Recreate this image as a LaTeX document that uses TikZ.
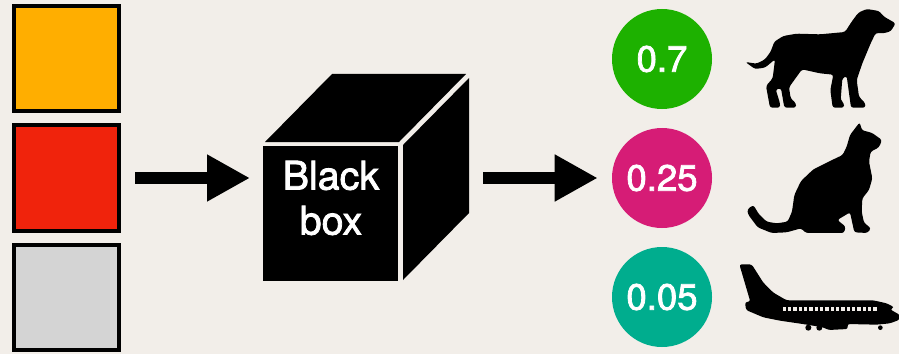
\documentclass[tikz,border=0pt]{standalone}
\usepackage{fontspec}
\setmainfont{TeX Gyre Heros}
\newfontfamily\mediumfont[FakeBold=2]{TeX Gyre Heros}
\usetikzlibrary{arrows.meta,positioning}
\definecolor{paper}{HTML}{F2EEE9}
\definecolor{amber}{HTML}{FFAE00}
\definecolor{scarlet}{HTML}{F0230C}
\definecolor{silver}{HTML}{D4D4D4}
\definecolor{leaf}{HTML}{1DB100}
\definecolor{magenta}{HTML}{D61C76}
\definecolor{teal}{HTML}{00AD8E}
\tikzset{
  swatch/.style={draw=black,line width=1mm,minimum size=26.25mm,inner sep=0pt},
  score/.style={circle,minimum size=25mm,inner sep=0pt,text=white,font=\fontsize{26}{26}\selectfont\mediumfont},
  bigarrow/.style={line width=3mm,-{Triangle[length=10.75mm,width=11mm]}},
  facebox/.style={fill=black,minimum width=33.75mm,minimum height=33.75mm,inner sep=0pt},
  boxtext/.style={text=white,align=center,font=\fontsize{28}{32}\selectfont\mediumfont},
  zoomed/.style={x=.08333mm,y=-.08333mm,rounded corners=.6mm},
}
\begin{document}
\begin{tikzpicture}[x=.25mm,y=-.25mm]
  \path[use as bounding box,fill=paper] (0,0) rectangle (899,354);
  % Input channels on the left.
  \node[swatch,fill=amber] (amberbox) at (66.5,58.5) {};
  \node[swatch,fill=scarlet] (redbox) at (66.5,178) {};
  \node[swatch,fill=silver] (greybox) at (66.5,297.5) {};

  % Cube: front face is the node, the two other faces are filled by hand.
  \node[facebox] (box) at (330.5,213.5) {};
  \node[boxtext] (boxlabel) at (331,198) {Black\\box};
  \fill (265,142) -- (332,74) -- (466,74) -- (399,142) -- cycle;
  \fill (403,145) -- (469,78) -- (469,213) -- (403,280) -- cycle;
  \coordinate (boxin) at (263,178);
  \coordinate (boxout) at (469,178);

  % Scores.
  \node[score,fill=leaf] (dogscore) at (662,59) {0.7};
  \node[score,fill=magenta] (catscore) at (662,178) {0.25};
  \node[score,fill=teal] (planescore) at (662,297) {0.05};

  \draw[bigarrow,shorten <=3.5mm,shorten >=3.25mm] (redbox.east) -- (boxin);
  \draw[bigarrow,shorten <=3.5mm,shorten >=3.5mm] (boxout) -- (catscore.west);

  % Silhouettes, traced in units of a third of a pixel.
  \begin{scope}[shift={(730,0)},zoomed]
    \fill (46,186) -- (80,191) -- (105,178) -- (122,155) -- (133,125) -- (160,108) -- (200,101)
      -- (270,103) -- (345,96) -- (365,65) -- (385,38) -- (410,27) -- (447,33) -- (462,50)
      -- (497,70) -- (482,94) -- (460,100) -- (437,99) -- (422,130) -- (397,190) -- (380,240)
      -- (387,290) -- (406,310) -- (406,323) -- (363,323) -- (350,228) -- (337,235) -- (332,300)
      -- (342,310) -- (342,323) -- (308,323) -- (301,270) -- (310,224) -- (270,220) -- (216,208)
      -- (177,262) -- (182,295) -- (198,310) -- (198,323) -- (163,323) -- (153,265) -- (137,268)
      -- (150,310) -- (150,323) -- (120,323) -- (108,258) -- (128,235) -- (135,178) -- (105,203)
      -- (75,207) -- cycle;
  \end{scope}
  \begin{scope}[shift={(730,115)},zoomed]
    \fill (52,283) -- (70,270) -- (87,298) -- (110,320) -- (140,325) -- (173,320) -- (186,290)
      -- (193,240) -- (213,198) -- (250,163) -- (300,138) -- (338,120) -- (350,95) -- (360,60)
      -- (389,22) -- (396,46) -- (425,53) -- (456,75) -- (447,97) -- (422,110) -- (417,140)
      -- (427,190) -- (417,225) -- (397,250) -- (395,290) -- (402,323) -- (423,340) -- (412,354)
      -- (373,352) -- (360,292) -- (322,315) -- (347,335) -- (342,354) -- (228,354) -- (213,340)
      -- (170,352) -- (125,354) -- (83,337) -- (54,298) -- cycle;
  \end{scope}
  \begin{scope}[shift={(730,250)},zoomed]
    \fill (28,43) -- (65,43) -- (100,98) -- (130,128) -- (170,151) -- (430,151)
      -- (470,160) -- (493,172) -- (480,178) -- (510,195) -- (509,209) -- (480,220)
      -- (440,224) -- (352,222) -- (354,237) -- (295,240) -- (280,232) -- (218,222)
      -- (150,212) -- (100,202) -- (48,180) -- (45,156) -- (61,155) -- cycle;
    \fill (235,233) circle (9) (268,233) circle (9) (451,233) circle (7);
    \foreach \xx in {163,179,...,435}{
      \fill[paper,sharp corners] (\xx-5,172) rectangle (\xx+5,184);
    }
  \end{scope}
\end{tikzpicture}
\end{document}
